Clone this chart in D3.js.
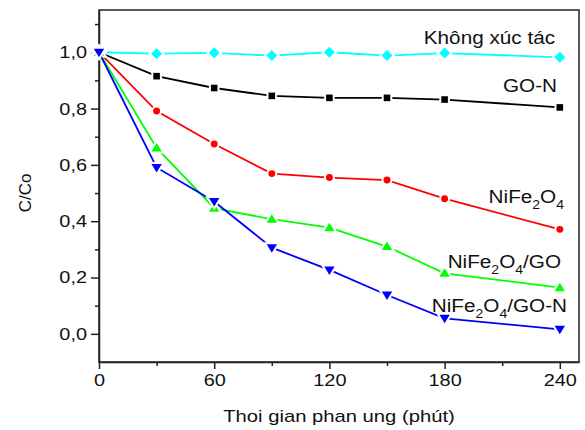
<!DOCTYPE html>
<html>
<head>
<meta charset="utf-8">
<script src="https://cdn.jsdelivr.net/npm/d3@7"></script>
<style>
  body { margin: 0; background: #fff; }
  text { font-family: "Liberation Sans", Arial, sans-serif; fill: #111; }
</style>
</head>
<body>
<div class="chart"></div>
<script>
// Reaction time (minutes)
var times = [0, 30, 60, 90, 120, 150, 180, 240];

// C/Co for each sample
var khongXucTac = [1.0, 0.995, 0.998, 0.988, 1.0, 0.988, 0.997, 0.982];
var goN = [1.0, 0.915, 0.873, 0.845, 0.838, 0.838, 0.832, 0.804];
var nife2o4 = [1.0, 0.791, 0.674, 0.569, 0.555, 0.546, 0.480, 0.371];
var nife2o4GO = [1.0, 0.66, 0.446, 0.407, 0.377, 0.31, 0.215, 0.164];
var nife2o4GON = [1.0, 0.591, 0.47, 0.306, 0.227, 0.138, 0.055, 0.016];

var xTicks = [0, 60, 120, 180, 240];
var yTicks = [0, 0.2, 0.4, 0.6, 0.8, 1.0];

var w = 585;
var h = 430;
var margin = {top: 10, right: 6, bottom: 68, left: 99};
var sx = 1.17; //the original text is a bit stretched sideways

var svg = d3.select(".chart")
            .append("svg")
            .attr("width", w)
            .attr("height", h);

var x = d3.scaleLinear()
          .domain([0, 250])
          .range([margin.left, w - margin.right]);

var y = d3.scaleLinear()
          .domain([-0.1, 1.15])
          .range([h - margin.bottom, margin.top]);

//Frame on top and right
svg.append("rect")
    .attr("x", x(0))
    .attr("y", y(1.15))
    .attr("width", x(250) - x(0))
    .attr("height", y(-0.1) - y(1.15))
    .attr("fill", "none")
    .attr("stroke", "#222")
    .attr("stroke-width", 1.5);

//Minor ticks
svg.append("g")
    .attr("transform", "translate(" + x(0) + ",0)")
    .call(d3.axisLeft(y).tickValues([1.1, 0.9, 0.7, 0.5, 0.3, 0.1]).tickSize(4).tickFormat(""))
    .call(function(g){ g.select(".domain").remove(); })
    .selectAll("line").attr("stroke", "#222").attr("stroke-width", 1.5);

svg.append("g")
    .attr("transform", "translate(0," + y(-0.1) + ")")
    .call(d3.axisBottom(x).tickValues([30, 90, 150, 210]).tickSize(4).tickFormat(""))
    .call(function(g){ g.select(".domain").remove(); })
    .selectAll("line").attr("stroke", "#222").attr("stroke-width", 1.5);

//Main axes
var yAxis = svg.append("g")
    .attr("transform", "translate(" + x(0) + ",0)")
    .call(d3.axisLeft(y).tickValues(yTicks).tickSize(8).tickSizeOuter(0)
            .tickFormat(function(d){ return d3.format(".1f")(d).replace(".", ","); }));

var xAxis = svg.append("g")
    .attr("transform", "translate(0," + y(-0.1) + ")")
    .call(d3.axisBottom(x).tickValues(xTicks).tickSize(7).tickSizeOuter(0));

[xAxis, yAxis].forEach(function(g){
  g.select(".domain").attr("stroke", "#222").attr("stroke-width", 1.5);
  g.selectAll("line").attr("stroke", "#222").attr("stroke-width", 1.5);
  g.selectAll("text")
    .style("font-size", "17px")
    .style("font-family", "Liberation Sans, Arial, sans-serif")
    .attr("fill", "#111");
});

yAxis.selectAll("text")
    .attr("x", -12 / sx)
    .attr("transform", "scale(" + sx + ",1)");

xAxis.selectAll("text")
    .attr("y", 12)
    .attr("transform", "scale(" + sx + ",1)");

//Axis titles
svg.append("text")
    .attr("transform", "translate(" + ((x(0) + x(250)) / 2) + ",422) scale(1.19,1)")
    .attr("text-anchor", "middle")
    .style("font-size", "17px")
    .text("Thoi gian phan ung (phút)");

svg.append("text")
    .attr("transform", "translate(31,193) rotate(-90)")
    .attr("text-anchor", "middle")
    .style("font-size", "17px")
    .text("C/Co");

//Series
var series = [
  {values: khongXucTac, color: "#00ffff", shape: "diamond"},
  {values: goN, color: "#000000", shape: "square"},
  {values: nife2o4, color: "#ff0000", shape: "circle"},
  {values: nife2o4GO, color: "#00ff00", shape: "up"},
  {values: nife2o4GON, color: "#0000ff", shape: "down"}
];

var line = d3.line()
             .x(function(d){ return x(d[0]); })
             .y(function(d){ return y(d[1]); });

function markerPath(shape){
  if(shape == "diamond") return "M0,-5.5L5.5,0L0,5.5L-5.5,0Z";
  if(shape == "square") return "M-3.3,-3.3H3.3V3.3H-3.3Z";
  if(shape == "circle") return d3.symbol().type(d3.symbolCircle).size(38)();
  if(shape == "up") return "M0,-5L5.2,3.5H-5.2Z";
  return "M0,5L5.2,-3.5H-5.2Z";
}

series.forEach(function(s){
  var pts = times.map(function(t, i){ return [t, s.values[i]]; });

  svg.append("path")
      .datum(pts)
      .attr("d", line)
      .attr("fill", "none")
      .attr("stroke", s.color)
      .attr("stroke-width", 1.8);

  svg.selectAll(null)
      .data(pts)
      .enter()
      .append("path")
      .attr("d", markerPath(s.shape))
      .attr("transform", function(d){ return "translate(" + x(d[0]) + "," + y(d[1]) + ")"; })
      .attr("fill", s.color)
      .attr("stroke", "#fff")
      .attr("stroke-width", 4)
      .style("paint-order", "stroke");
});

//Labels next to the curves
function label(parts, endX, baseY){
  var t = svg.append("text")
      .attr("transform", "translate(" + endX + "," + baseY + ") scale(1.12,1)")
      .attr("text-anchor", "end")
      .style("font-size", "18.5px");
  var shift = 0;
  parts.forEach(function(p){
    var sub = p[1];
    var dy = sub ? 6 - shift : -shift;
    shift = sub ? 6 : 0;
    t.append("tspan")
     .attr("dy", dy)
     .style("font-size", sub ? "12.5px" : "18.5px")
     .text(p[0]);
  });
}

label([["Không xúc tác", false]], 555, 44);
label([["GO-N", false]], 557, 92);
label([["NiFe", false], ["2", true], ["O", false], ["4", true]], 564, 203);
label([["NiFe", false], ["2", true], ["O", false], ["4", true], ["/GO", false]], 561, 268);
label([["NiFe", false], ["2", true], ["O", false], ["4", true], ["/GO-N", false]], 567, 312);
</script>
</body>
</html>
